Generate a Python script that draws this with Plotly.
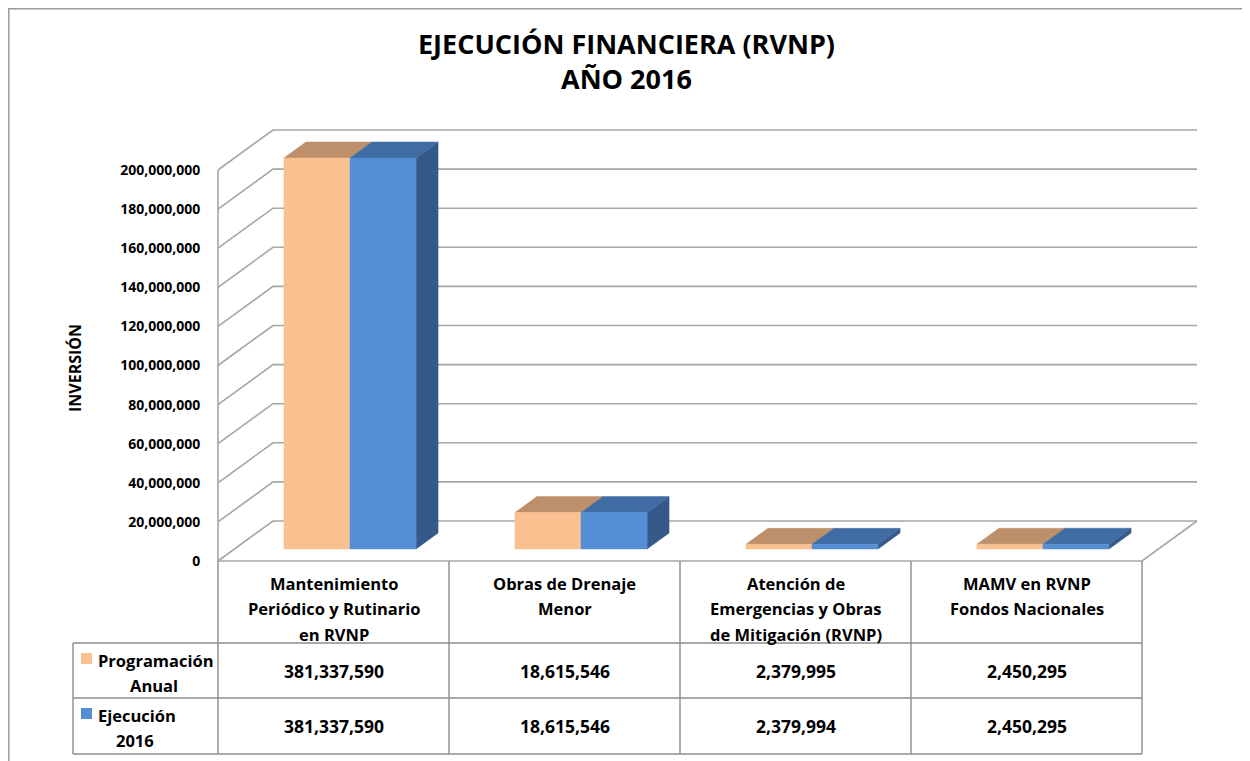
import plotly.graph_objects as go

# ---------------- data ----------------
categories = [
    ["Mantenimiento", "Periódico y Rutinario", "en RVNP"],
    ["Obras de Drenaje", "Menor"],
    ["Atención de", "Emergencias y Obras", "de Mitigación (RVNP)"],
    ["MAMV en RVNP", "Fondos Nacionales"],
]
series_names = [["Programación", "Anual"], ["Ejecución", "2016"]]
programacion = [381337590, 18615546, 2379995, 2450295]
ejecucion = [381337590, 18615546, 2379994, 2450295]
y_ticks = [0, 20e6, 40e6, 60e6, 80e6, 100e6, 120e6, 140e6, 160e6, 180e6, 200e6]
title_lines = ["EJECUCIÓN FINANCIERA (RVNP)", "AÑO 2016"]
y_title = "INVERSIÓN"

# ---------------- style / layout ----------------
OFF = 8                         # page body margin in the browser
PAGE_W, PAGE_H = 1250, 761
W, H = PAGE_W - OFF, PAGE_H - OFF
FONT = "Open Sans"
X0_PX, PXC = 218, 231          # page pixel of category 0 front edge, px per category
Y0_PX, Y200_PX = 561, 170      # page pixel rows of 0 and axis max on the front plane
YMAX = y_ticks[-1]
PPV = (Y0_PX - Y200_PX) / YMAX  # px per value unit
DX = 55 / PXC                  # depth vector in category units
DY = 40 / PPV                  # depth vector in value units
BW = 0.286                     # bar width (category units)
F_FRONT, F_BACK = 0.3, 0.7     # bar depth fractions
GRID = "#A6A6A6"
TABLE = "#8C8C8C"
front_cols = ["#F9C18F", "#558ED5"]
top_cols = ["#BE8F6B", "#3F6CA3"]
side_cols = ["#F0A060", "#355A89"]

def px2x(px):
    return (px - X0_PX) / PXC

def py2y(py):
    return (Y0_PX - py) / PPV

def pxp(px):
    return (px - OFF) / W

def pyp(py):
    return 1 - (py - OFF) / H

fig = go.Figure()

def line(xs, ys, color=GRID, width=1.6):
    fig.add_trace(go.Scatter(x=xs, y=ys, mode="lines", line=dict(color=color, width=width),
                             hoverinfo="skip", showlegend=False))

def poly(xs, ys, color):
    fig.add_trace(go.Scatter(x=xs + [xs[0]], y=ys + [ys[0]], mode="lines", fill="toself",
                             fillcolor=color, line=dict(color=color, width=0.5),
                             hoverinfo="skip", showlegend=False))

n = len(categories)
# back wall gridlines & left wall diagonals
for v in y_ticks:
    line([0, DX, n + DX], [v, v + DY, v + DY])
# left front vertical edge
line([0, 0], [0, YMAX])
# floor front & right edge
line([0, n, n + DX], [0, 0, DY])

# bars
for i in range(n):
    for s, vals in enumerate([programacion, ejecucion]):
        h = min(vals[i], YMAX)
        x0 = i + 0.5 - BW + s * BW
        x1 = x0 + BW
        fx, fy = F_FRONT * DX, F_FRONT * DY
        bx, by = F_BACK * DX, F_BACK * DY
        if s == 1:
            poly([x1 + fx, x1 + bx, x1 + bx, x1 + fx], [fy, by, h + by, h + fy], side_cols[s])
        poly([x0 + fx, x1 + fx, x1 + bx, x0 + bx], [h + fy, h + fy, h + by, h + by], top_cols[s])
        poly([x0 + fx, x1 + fx, x1 + fx, x0 + fx], [fy, fy, h + fy, h + fy], front_cols[s])

# data table lines
row_px = [Y0_PX, 643, 698, 754]
left_px = 73
for k in range(n + 1):
    line([k, k], [py2y(row_px[0]), py2y(row_px[-1])], color=TABLE, width=1.4)
line([px2x(left_px), px2x(left_px)], [py2y(row_px[1]), py2y(row_px[-1])], color=TABLE, width=1.4)
for r in row_px[1:]:
    line([px2x(left_px), n], [py2y(r), py2y(r)], color=TABLE, width=1.4)

def tfont(size):
    return dict(family=FONT, size=size, color="black", weight="bold")

ann = []
# header texts
for i, lines_ in enumerate(categories):
    for j, t in enumerate(lines_):
        ann.append(dict(x=i + 0.5, y=py2y(583 + 25.5 * j), text=t, showarrow=False,
                        font=tfont(16.5), xanchor="center", yanchor="middle"))
# values
for s, vals in enumerate([programacion, ejecucion]):
    ry = (row_px[s + 1] + row_px[s + 2]) / 2
    for i, v in enumerate(vals):
        ann.append(dict(x=i + 0.5, y=py2y(ry), text=f"{v:,}", showarrow=False,
                        font=tfont(17.5), xanchor="center", yanchor="middle"))
# legend keys
for s, nm in enumerate(series_names):
    top = row_px[s + 1]
    fig.add_shape(type="rect", x0=px2x(81), x1=px2x(92), y0=py2y(top + 10), y1=py2y(top + 21),
                  fillcolor=front_cols[s], line=dict(width=0))
    ann.append(dict(x=px2x(96), y=py2y(top + 17), text=nm[0], showarrow=False, xanchor="left",
                    yanchor="middle", font=tfont(16.5)))
    cx = 154 if s == 0 else 135
    ann.append(dict(x=px2x(cx), y=py2y(top + 42), text=nm[1], showarrow=False, xanchor="center",
                    yanchor="middle", font=tfont(16.5)))

# title
for j, t in enumerate(title_lines):
    ann.append(dict(x=pxp(626), xref="paper", y=pyp(44 + 34 * j), yref="paper", text=t,
                    showarrow=False, xanchor="center", yanchor="middle", font=tfont(27)))
# y axis title
ann.append(dict(x=pxp(75), xref="paper", y=pyp(368), yref="paper", text=y_title, textangle=-90,
                showarrow=False, xanchor="center", yanchor="middle", font=tfont(16)))

# outer frame (top & left)
fig.add_shape(type="line", xref="paper", yref="paper", x0=0, x1=1.01, y0=1 - 0.8 / H, y1=1 - 0.8 / H,
              line=dict(color="#9A9A9A", width=1.5))
fig.add_shape(type="line", xref="paper", yref="paper", x0=0.8 / W, x1=0.8 / W, y0=1.01, y1=-0.01,
              line=dict(color="#9A9A9A", width=1.5))

fig.update_layout(
    width=W, height=H, margin=dict(l=0, r=0, t=0, b=0),
    paper_bgcolor="white", plot_bgcolor="white", showlegend=False,
    annotations=ann,
    xaxis=dict(range=[px2x(OFF), px2x(PAGE_W)], visible=False, fixedrange=True),
    yaxis=dict(range=[py2y(PAGE_H), py2y(OFF)], showgrid=False, zeroline=False, showline=False,
               tickvals=y_ticks, tickformat=",.0f", ticks="outside", ticklen=15,
               tickcolor="rgba(0,0,0,0)", anchor="free", position=pxp(X0_PX),
               tickfont=tfont(14), automargin=False, fixedrange=True),
)

fig.write_html("out.html")
